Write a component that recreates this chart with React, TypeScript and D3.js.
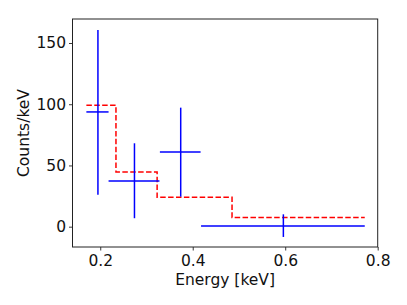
import React, { useRef, useEffect } from 'react';
import * as d3 from 'd3';

// binned spectrum (blue crosses)
const binCenters = [0.195, 0.274, 0.374, 0.596];
const binLow = [0.170, 0.218, 0.329, 0.418];
const binHigh = [0.218, 0.328, 0.417, 0.772];
const counts = [93.7, 37.3, 61.0, 0.6];
const countsLow = [26.1, 6.9, 24.5, -8.4];
const countsHigh = [160.7, 68.1, 97.2, 10.1];

// model (red dashed step)
const modelEdges = [0.170, 0.234, 0.323, 0.485, 0.772];
const modelValues = [99.2, 44.7, 24.0, 7.4];

const xTicks = [0.2, 0.4, 0.6, 0.8];
const yTicks = [0, 50, 100, 150];

const W = 407;
const H = 305;

const App = () => {
  const svgRef = useRef(null);

  useEffect(() => {
    const svg = d3.select(svgRef.current);
    svg.selectAll('*').remove();

    const left = 72.5, right = 377.7, top = 19, bottom = 247;
    const font = 'DejaVu Sans, sans-serif';

    const x = d3.scaleLinear().domain([0.14, 0.8]).range([left, right]);
    const y = d3.scaleLinear().domain([-16.6, 169.6]).range([bottom, top]);

    // model step line
    const stepPts = modelValues.map((v, i) => [modelEdges[i], v]);
    stepPts.push([modelEdges[modelEdges.length - 1], modelValues[modelValues.length - 1]]);
    const line = d3.line()
      .x(d => x(d[0]))
      .y(d => y(d[1]))
      .curve(d3.curveStepAfter);

    svg.append('path')
      .attr('d', line(stepPts))
      .attr('fill', 'none')
      .attr('stroke', '#ff0000')
      .attr('stroke-width', 1.5)
      .attr('stroke-dasharray', '5.5,2.4');

    // error crosses
    const g = svg.append('g').attr('stroke', '#0000ff').attr('stroke-width', 1.5);
    binCenters.forEach((c, i) => {
      g.append('line')
        .attr('x1', x(binLow[i])).attr('x2', x(binHigh[i]))
        .attr('y1', y(counts[i])).attr('y2', y(counts[i]));
      g.append('line')
        .attr('x1', x(c)).attr('x2', x(c))
        .attr('y1', y(countsLow[i])).attr('y2', y(countsHigh[i]));
    });

    // axes
    const xAxis = svg.append('g')
      .attr('transform', `translate(0,${bottom})`)
      .call(d3.axisBottom(x).tickValues(xTicks).tickFormat(d3.format('.1f'))
        .tickSizeInner(3.5).tickSizeOuter(0).tickPadding(4.5));
    const yAxis = svg.append('g')
      .attr('transform', `translate(${left},0)`)
      .call(d3.axisLeft(y).tickValues(yTicks).tickFormat(d3.format('d'))
        .tickSizeInner(3.5).tickSizeOuter(0).tickPadding(3));

    [xAxis, yAxis].forEach(a => {
      a.select('.domain').remove();
      a.selectAll('line').attr('stroke', '#222').attr('stroke-width', 0.9);
      a.selectAll('text')
        .attr('fill', '#111')
        .style('font-family', font)
        .style('font-size', '15.5px');
    });

    // frame
    svg.append('rect')
      .attr('x', left).attr('y', top)
      .attr('width', right - left).attr('height', bottom - top)
      .attr('fill', 'none')
      .attr('stroke', '#222')
      .attr('stroke-width', 1);

    // axis labels
    svg.append('text')
      .attr('x', (left + right) / 2)
      .attr('y', 284.5)
      .attr('text-anchor', 'middle')
      .attr('fill', '#111')
      .style('font-family', font)
      .style('font-size', '15.5px')
      .text('Energy [keV]');

    svg.append('text')
      .attr('transform', `translate(29,${(top + bottom) / 2}) rotate(-90)`)
      .attr('text-anchor', 'middle')
      .attr('fill', '#111')
      .style('font-family', font)
      .style('font-size', '15.5px')
      .text('Counts/keV');
  }, []);

  return (
    <div style={{ position: 'absolute', left: 0, top: 0, width: W, height: H, background: '#fff' }}>
      <svg ref={svgRef} width={W} height={H}></svg>
    </div>
  );
};

export default App;
